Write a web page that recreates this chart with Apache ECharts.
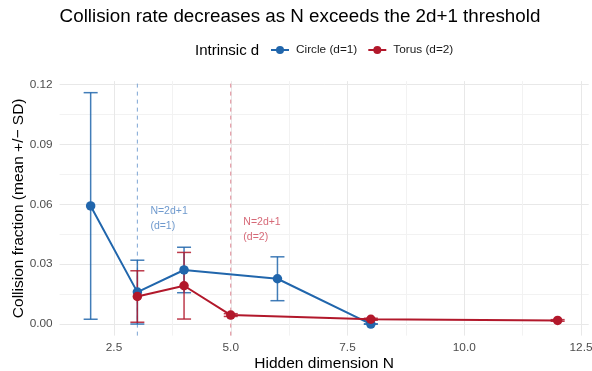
<!DOCTYPE html>
<html>
<head>
<meta charset="utf-8">
<script src="https://cdn.jsdelivr.net/npm/echarts@6/dist/echarts.min.js"></script>
<style>
  html, body { margin: 0; padding: 0; background: #fff; }
  #chart { width: 592px; height: 371px; }
</style>
</head>
<body>
<div id="chart"></div>
<script>
// data
const circleN = [2, 3, 4, 6, 8]
const circleMean = [0.0592, 0.016, 0.0271, 0.0227, 0.0]
const circleSd = [0.0568, 0.016, 0.0114, 0.011, 0.0]

const torusN = [3, 4, 5, 8, 12]
const torusMean = [0.0138, 0.0192, 0.0045, 0.0024, 0.0018]
const torusSd = [0.0129, 0.0167, 0.0007, 0.0005, 0.0004]

const xTicks = [2.5, 5, 7.5, 10, 12.5]
const xMinor = [3.75, 6.25, 8.75, 11.25]
const yTicks = [0, 0.03, 0.06, 0.09, 0.12]
const yMinor = [0.015, 0.045, 0.075, 0.105]

const thresholdD1 = 3
const thresholdD2 = 5

const BLUE = '#2166ac'
const RED = '#b2182b'
const FONT = 'Liberation Sans'

const chart = echarts.init(document.getElementById('chart'))

const xRange = { min: 1.335, max: 12.665 }
const yRange = { min: -0.0058, max: 0.1218 }
const tickLabel = { color: '#4d4d4d', fontSize: 11.8, fontFamily: FONT }

const errorData = (ns, means, sds) => ns.map((n, i) => [n, means[i] - sds[i], means[i] + sds[i]])
const pointData = (ns, means) => ns.map((n, i) => [n, means[i]])

// vertical bar + caps, caps 0.3 units wide
const errorBar = (color) => (params, api) => {
  const x = api.value(0)
  const lo = api.coord([x, api.value(1)])
  const hi = api.coord([x, api.value(2)])
  const half = api.size([0.3, 0])[0] / 2
  const style = { stroke: color, lineWidth: 1.5, opacity: 0.85 }
  return {
    type: 'group',
    children: [
      { type: 'line', shape: { x1: hi[0], y1: hi[1], x2: lo[0], y2: lo[1] }, style },
      { type: 'line', shape: { x1: hi[0] - half, y1: hi[1], x2: hi[0] + half, y2: hi[1] }, style },
      { type: 'line', shape: { x1: lo[0] - half, y1: lo[1], x2: lo[0] + half, y2: lo[1] }, style },
    ],
  }
}

// dashed threshold line spanning the whole panel
const vline = (x, color) => ({
  type: 'line',
  data: [[x, yRange.min], [x, yRange.max]],
  symbol: 'none',
  silent: true,
  lineStyle: { color, type: [4, 4], width: 1 },
  z: 2,
})

chart.setOption({
  animation: false,
  textStyle: { fontFamily: FONT },
  title: {
    text: 'Collision rate decreases as N exceeds the 2d+1 threshold',
    left: 295,
    textAlign: 'center',
    top: 2,
    textStyle: { fontSize: 18.8, fontWeight: 'normal', color: '#000', fontFamily: FONT },
  },
  graphic: [
    {
      type: 'text',
      left: 195,
      top: 43,
      style: { text: 'Intrinsic d', fontSize: 15, fill: '#000', fontFamily: FONT },
    },
  ],
  legend: {
    left: 265,
    top: 39,
    itemWidth: 18,
    itemHeight: 10,
    itemGap: 10,
    data: ['Circle (d=1)', 'Torus (d=2)'],
    textStyle: { fontSize: 11.8, color: '#1a1a1a', fontFamily: FONT, padding: [0, 0, 0, 2] },
  },
  grid: { left: 59.6, right: 3.3, top: 81.1, bottom: 35.4, containLabel: false, outerBoundsMode: 'none' },
  xAxis: [
    {
      type: 'value',
      ...xRange,
      name: 'Hidden dimension N',
      nameLocation: 'middle',
      nameGap: 20,
      nameMoveOverlap: false,
      nameTextStyle: { fontSize: 15.5, color: '#000', fontFamily: FONT, verticalAlign: 'top' },
      axisLine: { show: false },
      axisTick: { show: false, customValues: xTicks },
      axisLabel: { ...tickLabel, customValues: xTicks, margin: 6, formatter: (v) => v.toFixed(1) },
      splitLine: { show: true, lineStyle: { color: '#e8e8e8', width: 1 } },
    },
    {
      type: 'value',
      ...xRange,
      position: 'bottom',
      axisLine: { show: false },
      axisTick: { show: false, customValues: xMinor },
      axisLabel: { show: false, customValues: xMinor },
      splitLine: { show: true, lineStyle: { color: '#f2f2f2', width: 1 } },
    },
  ],
  yAxis: [
    {
      type: 'value',
      ...yRange,
      name: 'Collision fraction (mean +/\u2212 SD)',
      nameLocation: 'middle',
      nameGap: 32.5,
      nameMoveOverlap: false,
      nameTextStyle: { fontSize: 15.5, color: '#000', fontFamily: FONT },
      axisLine: { show: false },
      axisTick: { show: false, customValues: yTicks },
      axisLabel: { ...tickLabel, customValues: yTicks, margin: 7, formatter: (v) => v.toFixed(2) },
      splitLine: { show: true, lineStyle: { color: '#e8e8e8', width: 1 } },
    },
    {
      type: 'value',
      ...yRange,
      position: 'left',
      axisLine: { show: false },
      axisTick: { show: false, customValues: yMinor },
      axisLabel: { show: false, customValues: yMinor },
      splitLine: { show: true, lineStyle: { color: '#f2f2f2', width: 1 } },
    },
  ],
  series: [
    vline(thresholdD1, '#7ea6d4'),
    vline(thresholdD2, '#e08793'),
    {
      name: 'Circle (d=1) sd',
      type: 'custom',
      renderItem: errorBar(BLUE),
      data: errorData(circleN, circleMean, circleSd),
      z: 3,
    },
    {
      name: 'Torus (d=2) sd',
      type: 'custom',
      renderItem: errorBar(RED),
      data: errorData(torusN, torusMean, torusSd),
      z: 4,
    },
    {
      name: 'Circle (d=1)',
      type: 'line',
      data: pointData(circleN, circleMean),
      symbol: 'circle',
      symbolSize: 9.5,
      showAllSymbol: true,
      itemStyle: { color: BLUE },
      lineStyle: { color: BLUE, width: 2 },
      z: 5,
    },
    {
      name: 'Torus (d=2)',
      type: 'line',
      data: pointData(torusN, torusMean),
      symbol: 'circle',
      symbolSize: 9.5,
      showAllSymbol: true,
      itemStyle: { color: RED },
      lineStyle: { color: RED, width: 2 },
      z: 6,
    },
    {
      name: 'notes',
      type: 'scatter',
      symbolSize: 1,
      itemStyle: { color: 'rgba(0,0,0,0)' },
      silent: true,
      data: [
        { value: [3.29, 0.0527], label: { color: '#4a7fc0' }, text: 'N=2d+1\n(d=1)' },
        { value: [5.28, 0.0471], label: { color: '#cc4455' }, text: 'N=2d+1\n(d=2)' },
      ],
      label: {
        show: true,
        position: [0, 0],
        align: 'left',
        verticalAlign: 'middle',
        fontSize: 10.5,
        lineHeight: 14.5,
        fontFamily: FONT,
        formatter: (p) => p.data.text,
      },
      z: 7,
    },
  ],
})
</script>
</body>
</html>
